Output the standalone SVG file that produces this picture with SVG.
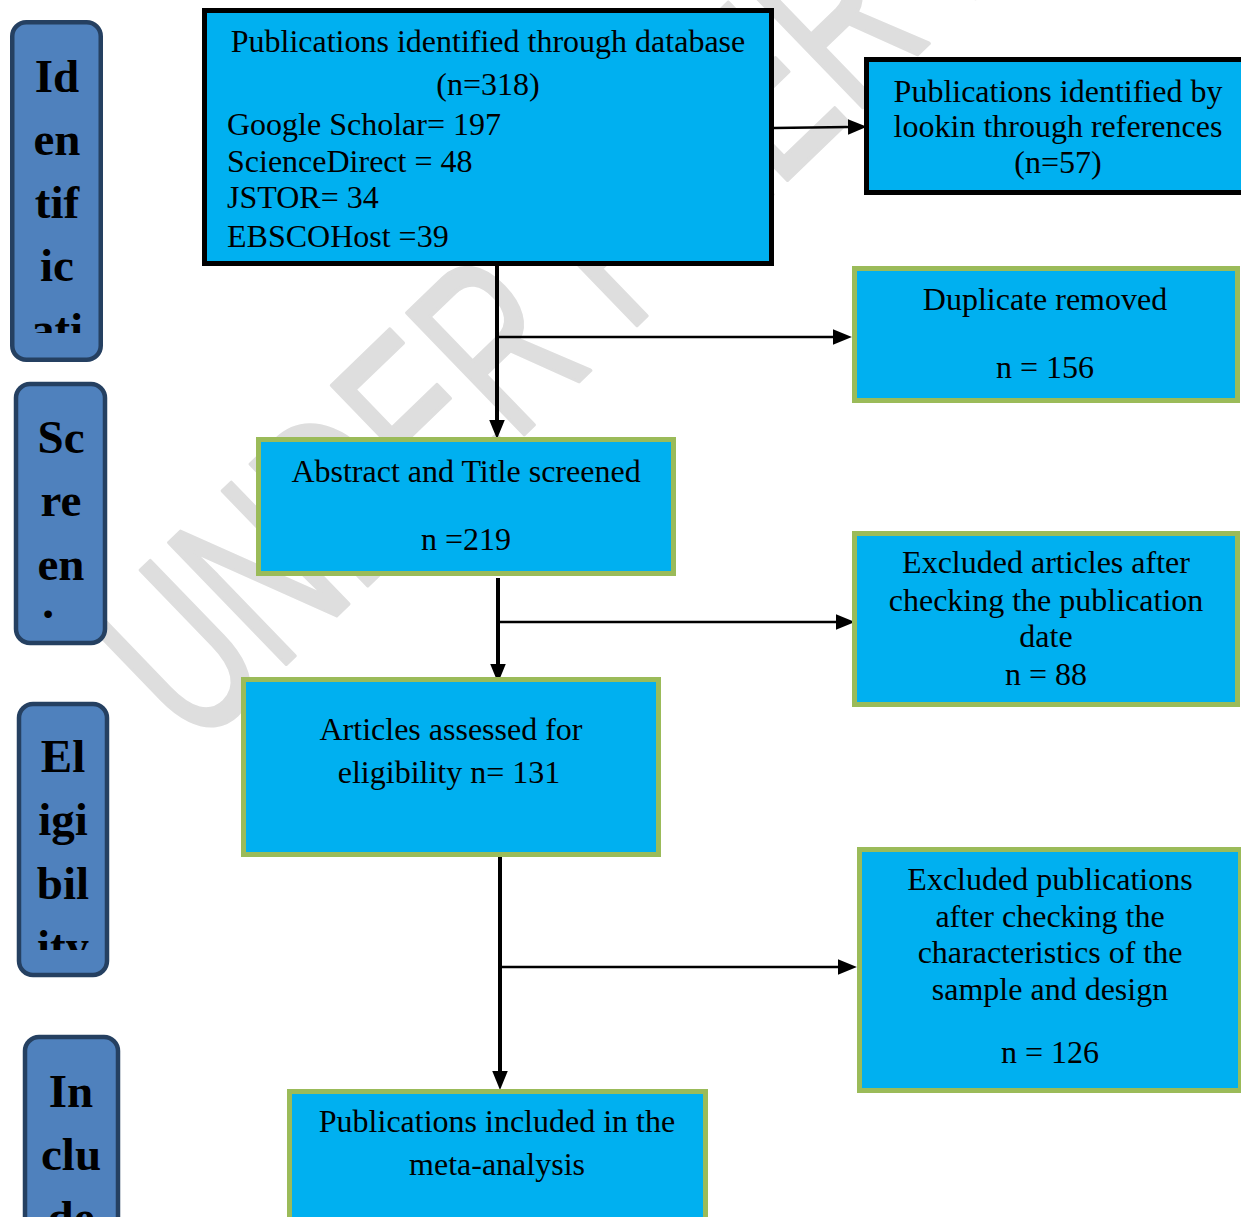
<svg xmlns="http://www.w3.org/2000/svg" width="1241" height="1217" viewBox="0 0 1241 1217">
  <style>
    .wm { font-family: "Liberation Sans", Arial, sans-serif; font-size: 245px; fill: #dedede; stroke: #dedede; stroke-width: 4; stroke-linejoin: round; }
    .stage rect { fill: #4f81bd; stroke: #254061; stroke-width: 4.5; }
    .stage text { font-family: "Liberation Serif", "Times New Roman", serif; font-weight: bold; font-size: 47px; fill: #000; text-anchor: middle; }
    .box-black { fill: #00b0f0; stroke: #000; stroke-width: 5; }
    .box-green { fill: #00b0f0; stroke: #9bbb59; stroke-width: 5; }
    .lbl { font-family: "Liberation Serif", "Times New Roman", serif; font-size: 32px; fill: #000; }
    .c { text-anchor: middle; }
    .thick { stroke: #000; stroke-width: 4; fill: none; }
    .thin { stroke: #000; stroke-width: 2.5; fill: none; }
  </style>
  <defs>
    <marker id="ah" markerUnits="userSpaceOnUse" markerWidth="20" markerHeight="20" refX="0" refY="8" orient="auto" viewBox="0 0 18 16">
      <path d="M0,1 L17,8 L0,15 z" fill="#000"/>
    </marker>
    <clipPath id="clip1"><rect x="10" y="20" width="95" height="313"/></clipPath>
    <clipPath id="clip2"><rect x="14" y="382" width="95" height="262"/></clipPath>
    <clipPath id="clip3"><rect x="17" y="702" width="95" height="248"/></clipPath>
    <clipPath id="clip4"><rect x="23" y="1035" width="98" height="182"/></clipPath>
  </defs>

  <rect x="0" y="0" width="1241" height="1217" fill="#fff"/>

  <g id="watermark">
    <text class="wm" transform="translate(195,752) rotate(-44) scale(0.64,1)">UNDER PEER REVIEW</text>
  </g>

  <g id="stage-identification" class="stage">
    <rect x="12.25" y="22.25" width="88.5" height="337.5" rx="14"/>
    <g clip-path="url(#clip1)">
      <text x="57" y="92">Id</text>
      <text x="57" y="155">en</text>
      <text x="57" y="218">tif</text>
      <text x="57" y="281">ic</text>
      <text x="57" y="345">ati</text>
    </g>
  </g>
  <g id="stage-screening" class="stage">
    <rect x="16" y="384" width="89" height="259" rx="14"/>
    <g clip-path="url(#clip2)">
      <text x="61" y="453">Sc</text>
      <text x="61" y="516">re</text>
      <text x="61" y="580">en</text>
      <text x="48" y="618">.</text>
    </g>
  </g>
  <g id="stage-eligibility" class="stage">
    <rect x="19" y="704" width="88" height="271" rx="14"/>
    <g clip-path="url(#clip3)">
      <text x="63" y="772">El</text>
      <text x="63" y="835">igi</text>
      <text x="63" y="899">bil</text>
      <text x="63" y="962">ity</text>
    </g>
  </g>
  <g id="stage-inclusion" class="stage">
    <rect x="25" y="1037" width="93" height="200" rx="14"/>
    <g clip-path="url(#clip4)">
      <text x="71" y="1107">In</text>
      <text x="71" y="1170">clu</text>
      <text x="71" y="1233">de</text>
    </g>
  </g>

  <g id="connectors">
    <path class="thin" d="M774,128 L848,127" marker-end="url(#ah)"/>
    <path class="thick" d="M497,266 L497,420" marker-end="url(#ah)"/>
    <path class="thin" d="M497,337 L833,337" marker-end="url(#ah)"/>
    <path class="thick" d="M498,578 L498,664" marker-end="url(#ah)"/>
    <path class="thin" d="M498,622 L836,622" marker-end="url(#ah)"/>
    <path class="thick" d="M500,855 L500,1071" marker-end="url(#ah)"/>
    <path class="thin" d="M500,967 L838,967" marker-end="url(#ah)"/>
  </g>

  <g id="node-database">
    <rect class="box-black" x="204.5" y="10.5" width="567" height="253"/>
    <text class="lbl c" x="488" y="52">Publications identified through database</text>
    <text class="lbl c" x="488" y="95">(n=318)</text>
    <text class="lbl" x="227" y="135">Google Scholar= 197</text>
    <text class="lbl" x="227" y="172">ScienceDirect = 48</text>
    <text class="lbl" x="227" y="208">JSTOR= 34</text>
    <text class="lbl" x="227" y="247">EBSCOHost =39</text>
  </g>

  <g id="node-references">
    <rect class="box-black" x="866.5" y="59.5" width="400" height="133"/>
    <text class="lbl c" x="1058" y="102">Publications identified by</text>
    <text class="lbl c" x="1058" y="137">lookin through references</text>
    <text class="lbl c" x="1058" y="173">(n=57)</text>
  </g>

  <g id="node-duplicates">
    <rect class="box-green" x="854.5" y="268.5" width="383" height="132"/>
    <text class="lbl c" x="1045" y="310">Duplicate removed</text>
    <text class="lbl c" x="1045" y="378">n = 156</text>
  </g>

  <g id="node-screened">
    <rect class="box-green" x="258.5" y="439.5" width="415" height="134"/>
    <text class="lbl c" x="466" y="482">Abstract and Title screened</text>
    <text class="lbl c" x="466" y="550">n =219</text>
  </g>

  <g id="node-excluded-date">
    <rect class="box-green" x="854.5" y="533.5" width="383" height="171"/>
    <text class="lbl c" x="1046" y="573">Excluded articles after</text>
    <text class="lbl c" x="1046" y="611">checking the publication</text>
    <text class="lbl c" x="1046" y="647">date</text>
    <text class="lbl c" x="1046" y="685">n = 88</text>
  </g>

  <g id="node-eligibility">
    <rect class="box-green" x="243.5" y="679.5" width="415" height="175"/>
    <text class="lbl c" x="451" y="740">Articles assessed for</text>
    <text class="lbl c" x="449" y="783">eligibility n= 131</text>
  </g>

  <g id="node-excluded-design">
    <rect class="box-green" x="859.5" y="849.5" width="381" height="241"/>
    <text class="lbl c" x="1050" y="890">Excluded publications</text>
    <text class="lbl c" x="1050" y="927">after checking the</text>
    <text class="lbl c" x="1050" y="963">characteristics of the</text>
    <text class="lbl c" x="1050" y="1000">sample and design</text>
    <text class="lbl c" x="1050" y="1063">n = 126</text>
  </g>

  <g id="node-included">
    <rect class="box-green" x="289.5" y="1091.5" width="416" height="150"/>
    <text class="lbl c" x="497" y="1132">Publications included in the</text>
    <text class="lbl c" x="497" y="1175">meta-analysis</text>
  </g>
</svg>
